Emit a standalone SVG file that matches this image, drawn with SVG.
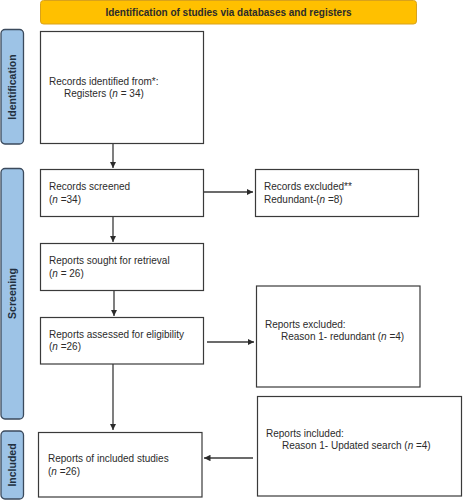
<svg xmlns="http://www.w3.org/2000/svg" width="463" height="500" viewBox="0 0 463 500">
<style>
.box{fill:#fff;stroke:#3a3a3a;stroke-width:1.2}
.side{fill:#9dc3e6;stroke:#3b4a5c;stroke-width:1.3}
.hdr{fill:#ffc000;stroke:#d9a21b;stroke-width:1}
.t{font-family:"Liberation Sans",Arial,sans-serif;font-size:10px;fill:#2b2b2b}
.b{font-family:"Liberation Sans",Arial,sans-serif;font-size:10px;font-weight:bold;fill:#2b2b2b}
.st{font-family:"Liberation Sans",Arial,sans-serif;font-size:10.5px;font-weight:bold;fill:#22303f}
.c{stroke:#3a3a3a;stroke-width:1.3;fill:none;marker-end:url(#ah)}
</style>
<defs>
<marker id="ah" viewBox="0 0 10 10" refX="10" refY="5" markerWidth="5" markerHeight="5" markerUnits="strokeWidth" orient="auto">
<path d="M0,0L10,5L0,10z" fill="#2b2b2b"/>
</marker>
</defs>
<rect width="463" height="500" fill="#fff"/>
<g id="header">
<rect class="hdr" x="40.5" y="0.5" width="376" height="23.5" rx="3"/>
<text class="b" x="228.5" y="16" text-anchor="middle">Identification of studies via databases and registers</text>
</g>
<g id="label-identification">
<rect class="side" x="1" y="29.5" width="22.5" height="114.5" rx="4"/>
<text class="st" transform="translate(16,87) rotate(-90)" text-anchor="middle">Identification</text>
</g>
<g id="label-screening">
<rect class="side" x="1" y="168.5" width="22.5" height="250.5" rx="4"/>
<text class="st" transform="translate(16,293.5) rotate(-90)" text-anchor="middle">Screening</text>
</g>
<g id="label-included">
<rect class="side" x="1" y="431" width="22.5" height="68" rx="4"/>
<text class="st" transform="translate(16,465) rotate(-90)" text-anchor="middle">Included</text>
</g>
<g id="records-identified">
<rect class="box" x="40.5" y="31.5" width="163" height="112"/>
<text class="t" x="49" y="85">Records identified from*:</text>
<text class="t" x="64" y="97">Registers (<tspan font-style="italic">n</tspan> = 34)</text>
</g>
<g id="records-screened">
<rect class="box" x="40.5" y="169.5" width="163" height="47"/>
<text class="t" x="49" y="190">Records screened</text>
<text class="t" x="49" y="203">(<tspan font-style="italic">n</tspan> =34)</text>
</g>
<g id="records-excluded">
<rect class="box" x="255.5" y="169.5" width="163" height="47"/>
<text class="t" x="264" y="190">Records excluded**</text>
<text class="t" x="264" y="203">Redundant-(<tspan font-style="italic">n</tspan> =8)</text>
</g>
<g id="reports-sought">
<rect class="box" x="40.5" y="243.5" width="163" height="47"/>
<text class="t" x="49" y="264">Reports sought for retrieval</text>
<text class="t" x="49" y="277">(<tspan font-style="italic">n</tspan> = 26)</text>
</g>
<g id="reports-assessed">
<rect class="box" x="40.5" y="317.5" width="163" height="46.5"/>
<text class="t" x="49" y="338">Reports assessed for eligibility</text>
<text class="t" x="49" y="350">(<tspan font-style="italic">n</tspan> =26)</text>
</g>
<g id="reports-excluded">
<rect class="box" x="256.5" y="286" width="163.5" height="101"/>
<text class="t" x="265" y="328">Reports excluded:</text>
<text class="t" x="281" y="340">Reason 1- redundant (<tspan font-style="italic">n</tspan> =4)</text>
</g>
<g id="reports-included-search">
<rect class="box" x="257.5" y="396.5" width="204" height="99.5"/>
<text class="t" x="266" y="437">Reports included:</text>
<text class="t" x="282" y="449">Reason 1- Updated search (<tspan font-style="italic">n</tspan> =4)</text>
</g>
<g id="reports-included-studies">
<rect class="box" x="38.5" y="432.5" width="163.5" height="64.5"/>
<text class="t" x="48" y="462">Reports of included studies</text>
<text class="t" x="48" y="475">(<tspan font-style="italic">n</tspan> =26)</text>
</g>
<g id="connectors">
<line class="c" x1="113" y1="144" x2="113" y2="168"/>
<line class="c" x1="204" y1="192" x2="253" y2="192"/>
<line class="c" x1="113" y1="217" x2="113" y2="242"/>
<line class="c" x1="114" y1="291" x2="114" y2="316"/>
<line class="c" x1="207" y1="342" x2="254" y2="342"/>
<line class="c" x1="113" y1="364" x2="113" y2="430"/>
<line class="c" x1="253" y1="458" x2="204" y2="458"/>
</g>
</svg>
